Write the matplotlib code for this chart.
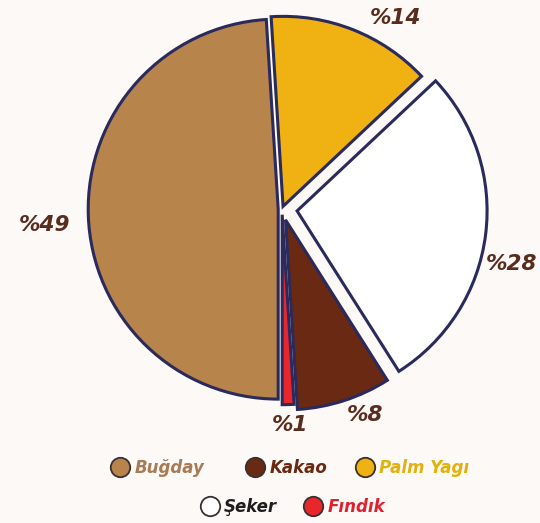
import numpy as np
import matplotlib.pyplot as plt
from matplotlib.lines import Line2D

# slice order: clockwise, starting just left of 12 o'clock
names = ["Palm Yagı", "Şeker", "Kakao", "Fındık", "Buğday"]
shares = [14, 28, 8, 1, 49]
pct_labels = ["%14", "%28", "%8", "%1", "%49"]
colors = ["#EFB212", "#FFFFFF", "#6A2912", "#E8262B", "#B7844C"]

# legend rows and text colours
legend_row1 = ["Buğday", "Kakao", "Palm Yagı"]
legend_row2 = ["Şeker", "Fındık"]
text_colors = {"Buğday": "#A77B55", "Kakao": "#6A2912", "Palm Yagı": "#E2B10C",
               "Şeker": "#1E1E1E", "Fındık": "#E0202E"}

# layout
explode = [0.015, 0.08, 0.06, 0.03, 0.02]
label_pos = [(30.6, 1.17), (103.5, 1.245), (158.1, 1.17), (177.9, 1.135), (266.1, 1.25)]  # (deg clockwise from top, radius)
legend_px = {"Buğday": (120, 468), "Kakao": (255, 468), "Palm Yagı": (365, 468),
             "Şeker": (210, 507), "Fındık": (313, 507)}

bg = "#FCF9F6"
edge = "#2A2A5C"
W, H = 540, 523

fig = plt.figure(figsize=(W / 100, H / 100), dpi=100, facecolor=bg)
ax = fig.add_axes([0, 0, 1, 1])
ax.set_facecolor(bg)

wedges, _ = ax.pie(shares, colors=colors, explode=explode,
                   startangle=93.6, counterclock=False, radius=1.0,
                   wedgeprops=dict(edgecolor=edge, linewidth=2.2))

for lab, (ang, dist) in zip(pct_labels, label_pos):
    a = np.deg2rad(ang)
    ax.text(dist * np.sin(a), dist * np.cos(a), lab, ha="center", va="center",
            fontsize=15.5, fontweight="bold", style="italic", color="#5A2C1E")

# pie resets limits, so set them afterwards (1 unit = 190 px)
r_px = 190.0
cx, cy = 282.0, 209.0
ax.set_xlim(-cx / r_px, (W - cx) / r_px)
ax.set_ylim(-(H - cy) / r_px, cy / r_px)
ax.set_aspect("equal", adjustable="datalim")
ax.axis("off")

for n in legend_row1 + legend_row2:
    c = colors[names.index(n)]
    h = Line2D([0], [0], marker="o", linestyle="none", markersize=14,
               markerfacecolor=c, markeredgecolor="#3A3030", markeredgewidth=1.3)
    mx, my = legend_px[n]
    leg = fig.legend([h], [n], loc="center left",
                     bbox_to_anchor=((mx - 10) / W, 1 - my / H), frameon=False,
                     borderpad=0, borderaxespad=0,
                     handletextpad=0.25, handlelength=1.2,
                     prop=dict(size=12, weight="bold", style="italic"))
    leg.get_texts()[0].set_color(text_colors[n])

fig.savefig("out.png", dpi=100, facecolor=bg)
